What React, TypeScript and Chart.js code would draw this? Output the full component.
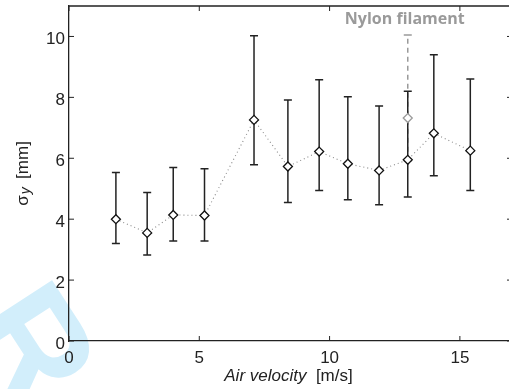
import React, { useEffect, useRef } from "react";
import { Chart, registerables } from "chart.js";
Chart.register(...registerables);

const xVals = [1.8, 3.0, 4.0, 5.2, 7.1, 8.4, 9.6, 10.7, 11.9, 13.0, 14.0, 15.4];
const yVals = [4.0, 3.55, 4.14, 4.12, 7.26, 5.73, 6.22, 5.82, 5.6, 5.95, 6.82, 6.25];
const errLow = [3.2, 2.82, 3.28, 3.28, 5.79, 4.55, 4.94, 4.64, 4.47, 4.73, 5.43, 4.94];
const errHigh = [5.53, 4.88, 5.7, 5.66, 10.02, 7.91, 8.58, 8.02, 7.72, 8.2, 9.4, 8.6];

const nylonX = [13.0];
const nylonY = [7.32];
const nylonLow = [5.92];
const nylonHigh = [10.05];

const xTicks = [0, 5, 10, 15];
const yTicks = [0, 2, 4, 6, 8, 10];

const FONT = "'Liberation Sans', Arial, sans-serif";

export default function App() {
  const ref = useRef<HTMLCanvasElement | null>(null);
  useEffect(() => {
    const canvas = ref.current!;
    const decor = {
      id: "decor",
      beforeDraw(chart: any) {
        const ctx = chart.ctx;
        ctx.save();
        ctx.fillStyle = "#ffffff";
        ctx.fillRect(0, 0, chart.width, chart.height);
        ctx.translate(-40, 328);
        ctx.rotate((57 * Math.PI) / 180);
        ctx.fillStyle = "#d2eefb";
        ctx.font = `bold 150px ${FONT}`;
        ctx.fillText("Review", 0, 0);
        ctx.restore();
      },
      beforeDatasetsDraw(chart: any) {
        const ctx = chart.ctx;
        const xs = chart.scales.x;
        const ys = chart.scales.y;
        const drawBar = (x: number, lo: number, hi: number, color: string, dash: number[]) => {
          const px = xs.getPixelForValue(x);
          const pl = ys.getPixelForValue(lo);
          const ph = ys.getPixelForValue(hi);
          ctx.save();
          ctx.strokeStyle = color;
          ctx.lineWidth = 1.5;
          ctx.setLineDash(dash);
          ctx.beginPath();
          ctx.moveTo(px, pl);
          ctx.lineTo(px, ph);
          ctx.stroke();
          ctx.setLineDash([]);
          ctx.beginPath();
          ctx.moveTo(px - 4, pl);
          ctx.lineTo(px + 4, pl);
          ctx.moveTo(px - 4, ph);
          ctx.lineTo(px + 4, ph);
          ctx.stroke();
          ctx.restore();
        };
        nylonX.forEach((x, i) => drawBar(x, nylonLow[i], nylonHigh[i], "#9a9a9a", [5, 4]));
        xVals.forEach((x, i) => drawBar(x, errLow[i], errHigh[i], "#222222", []));
      },
      afterDraw(chart: any) {
        const ctx = chart.ctx;
        const xs = chart.scales.x;
        const ys = chart.scales.y;
        const a = chart.chartArea;
        ctx.save();
        ctx.strokeStyle = "#222";
        ctx.lineWidth = 1.3;
        ctx.beginPath();
        ctx.moveTo(a.left, a.top);
        ctx.lineTo(a.right, a.top);
        ctx.lineTo(a.right, a.bottom);
        ctx.stroke();
        ctx.lineWidth = 1;
        ctx.beginPath();
        xTicks.forEach((t) => {
          const px = xs.getPixelForValue(t);
          ctx.moveTo(px, a.bottom);
          ctx.lineTo(px, a.bottom - 5);
          ctx.moveTo(px, a.top);
          ctx.lineTo(px, a.top + 5);
        });
        yTicks.forEach((t) => {
          const py = ys.getPixelForValue(t);
          ctx.moveTo(a.left, py);
          ctx.lineTo(a.left + 5, py);
          ctx.moveTo(a.right, py);
          ctx.lineTo(a.right - 5, py);
        });
        ctx.stroke();

        // tick labels
        ctx.fillStyle = "#222";
        ctx.font = `17px ${FONT}`;
        ctx.textBaseline = "alphabetic";
        ctx.textAlign = "center";
        xTicks.forEach((t) => {
          ctx.fillText(String(t), xs.getPixelForValue(t), a.bottom + 22);
        });
        ctx.textAlign = "right";
        yTicks.forEach((t) => {
          ctx.fillText(String(t), a.left - 4, ys.getPixelForValue(t) + 8);
        });

        // Nylon label
        ctx.fillStyle = "#9a9a9a";
        ctx.font = `bold 16px 'Open Sans', sans-serif`;
        ctx.textAlign = "center";
        ctx.fillText("Nylon filament", xs.getPixelForValue(nylonX[0]) - 3, 24);

        // X title
        ctx.fillStyle = "#222";
        ctx.textAlign = "left";
        const p1 = "Air velocity";
        const p2 = "  [m/s]";
        ctx.font = `italic 17px ${FONT}`;
        const w1 = ctx.measureText(p1).width;
        ctx.font = `17px ${FONT}`;
        const w2 = ctx.measureText(p2).width;
        const sx = (a.left + a.right) / 2 - (w1 + w2) / 2 - 2;
        ctx.font = `italic 17px ${FONT}`;
        ctx.fillText(p1, sx, 381);
        ctx.font = `17px ${FONT}`;
        ctx.fillText(p2, sx + w1, 381);

        // Y title
        ctx.save();
        ctx.translate(28, (a.top + a.bottom) / 2);
        ctx.rotate(-Math.PI / 2);
        ctx.font = `17px ${FONT}`;
        const s1 = "\u03C3";
        const ws1 = ctx.measureText(s1).width;
        ctx.font = `italic 14px ${FONT}`;
        const ws2 = ctx.measureText("y").width;
        ctx.font = `17px ${FONT}`;
        const s3 = "  [mm]";
        const ws3 = ctx.measureText(s3).width;
        const tx = -(ws1 + ws2 + ws3) / 2;
        ctx.fillText(s1, tx, 0);
        ctx.font = `italic 14px ${FONT}`;
        ctx.fillText("y", tx + ws1 + 1, 2);
        ctx.font = `17px ${FONT}`;
        ctx.fillText(s3, tx + ws1 + ws2, 0);
        ctx.restore();
        ctx.restore();
      },
    };

    const chart = new Chart(canvas, {
      type: "scatter",
      data: {
        datasets: [
          {
            data: xVals.map((x, i) => ({ x, y: yVals[i] })),
            showLine: true,
            borderColor: "#8a8a8a",
            borderWidth: 1.1,
            borderDash: [1, 3],
            pointStyle: "rectRot",
            pointRadius: 4.5,
            pointBackgroundColor: "#ffffff",
            pointBorderColor: "#111111",
            pointBorderWidth: 1.3,
          } as any,
          {
            data: nylonX.map((x, i) => ({ x, y: nylonY[i] })),
            showLine: false,
            pointStyle: "rectRot",
            pointRadius: 4.5,
            pointBackgroundColor: "#ffffff",
            pointBorderColor: "#9a9a9a",
            pointBorderWidth: 1.3,
          } as any,
        ],
      },
      options: {
        responsive: false,
        animation: false,
        layout: { padding: { top: 6, right: 13, left: 0, bottom: 0 } },
        plugins: { legend: { display: false }, tooltip: { enabled: false } },
        scales: {
          x: {
            type: "linear",
            min: 0,
            max: 17,
            afterFit: (s: any) => {
              s.height = 48;
            },
            grid: { display: false, drawTicks: false },
            border: { display: true, color: "#222", width: 1.3 },
            ticks: { display: false },
          },
          y: {
            type: "linear",
            min: 0,
            max: 11,
            afterFit: (s: any) => {
              s.width = 69;
            },
            grid: { display: false, drawTicks: false },
            border: { display: true, color: "#222", width: 1.3 },
            ticks: { display: false },
          },
        },
      },
      plugins: [decor],
    });
    return () => chart.destroy();
  }, []);
  return (
    <div style={{ position: "fixed", left: 0, top: 0, width: 525, height: 389, background: "#fff" }}>
      <canvas ref={ref} width={525} height={389} style={{ display: "block" }} />
    </div>
  );
}
